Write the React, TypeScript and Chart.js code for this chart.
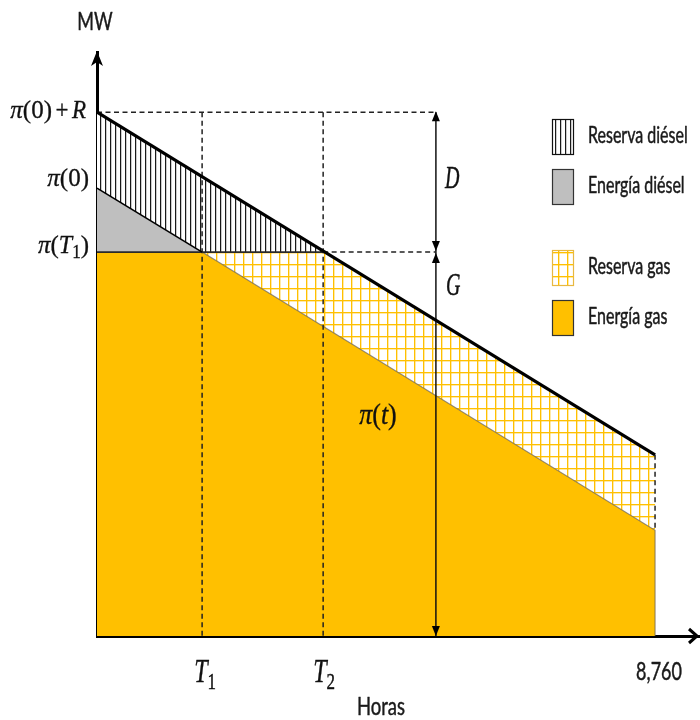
import React, { useEffect, useRef } from 'react';
import { Chart, registerables } from 'chart.js';

Chart.register(...registerables);

// ---- data (hours on x, MW on y, arbitrary units) ----
const HOURS_END = 8760;
const T1 = 1650;
const T2 = 3550;
const ARROW_X = 5320;
const X_MAX = 9450;
const Y_MAX = 111.5;

const PI0_R = 100; // π(0)+R
const PI0 = 85.5; // π(0)
const PI_T1 = 73.3; // π(T1)
const PI_END = 20.2; // π(8760)
const PI_R_END = 34.6; // π(8760)+R

const X_TICK_VALUES = [T1, T2, HOURS_END];
const Y_TICK_VALUES = [PI0_R, PI0, PI_T1];
const LEGEND_LABELS = ['Reserva diésel', 'Energía diésel', 'Reserva gas', 'Energía gas'];

const YELLOW = '#FFC000';
const GREY = '#BFBFBF';

type Pt = { x: number; y: number | null };

const gasEnergy: Pt[] = [
  { x: 0, y: 0 }, { x: 0, y: PI_T1 }, { x: T1, y: PI_T1 }, { x: HOURS_END, y: PI_END }, { x: HOURS_END, y: 0 }, { x: 0, y: 0 },
];
const gasReserve: Pt[] = [
  { x: T1, y: PI_T1 }, { x: T2, y: PI_T1 }, { x: HOURS_END, y: PI_R_END }, { x: HOURS_END, y: PI_END }, { x: T1, y: PI_T1 },
];
const dieselEnergy: Pt[] = [
  { x: 0, y: PI0 }, { x: T1, y: PI_T1 }, { x: 0, y: PI_T1 }, { x: 0, y: PI0 },
];
const dieselReserve: Pt[] = [
  { x: 0, y: PI0_R }, { x: T2, y: PI_T1 }, { x: T1, y: PI_T1 }, { x: 0, y: PI0 }, { x: 0, y: PI0_R },
];
const topLine: Pt[] = [{ x: 0, y: PI0_R }, { x: HOURS_END, y: PI_R_END }];
const dieselSlope: Pt[] = [{ x: 0, y: PI0 }, { x: T1, y: PI_T1 }];
const flatLine: Pt[] = [{ x: 0, y: PI_T1 }, { x: T2, y: PI_T1 }];
const gasEdge: Pt[] = [{ x: T1, y: PI_T1 }, { x: HOURS_END, y: PI_END }, { x: HOURS_END, y: 0 }];
const dashed: Pt[] = [
  { x: 0, y: PI0_R }, { x: ARROW_X, y: PI0_R }, { x: ARROW_X, y: null },
  { x: T1, y: PI0_R }, { x: T1, y: 0 }, { x: T1, y: null },
  { x: T2, y: PI0_R }, { x: T2, y: 0 }, { x: T2, y: null },
  { x: T2, y: PI_T1 }, { x: ARROW_X, y: PI_T1 }, { x: ARROW_X + 1, y: null },
  { x: HOURS_END, y: PI_R_END }, { x: HOURS_END, y: PI_END },
];
const dimLine: Pt[] = [{ x: ARROW_X, y: 0 }, { x: ARROW_X, y: PI0_R }];

// ---- helpers ----
function makeGridPattern(ctx: CanvasRenderingContext2D) {
  const c = document.createElement('canvas');
  c.width = 9; c.height = 12;
  const g = c.getContext('2d')!;
  g.fillStyle = '#fff'; g.fillRect(0, 0, 9, 12);
  g.fillStyle = 'rgba(255,192,0,0.35)';
  g.fillRect(1, 0, 1, 12); g.fillRect(0, 1, 9, 1);
  g.fillStyle = YELLOW;
  g.fillRect(0, 0, 1, 12); g.fillRect(0, 0, 9, 1);
  return ctx.createPattern(c, 'repeat')!;
}
function makeVLinePattern(ctx: CanvasRenderingContext2D) {
  const c = document.createElement('canvas');
  c.width = 5; c.height = 4;
  const g = c.getContext('2d')!;
  g.fillStyle = '#fff'; g.fillRect(0, 0, 5, 4);
  g.fillStyle = '#1a1a1a'; g.fillRect(0, 0, 1, 4);
  g.fillStyle = 'rgba(0,0,0,0.2)'; g.fillRect(1, 0, 1, 4);
  return ctx.createPattern(c, 'repeat')!;
}

type Seg = { t: string; font: string; dy?: number };
function drawRich(ctx: CanvasRenderingContext2D, segs: Seg[], x: number, y: number, align: 'left' | 'center' | 'right', sy: number, color = '#111', thick = 0) {
  ctx.save();
  const ws = segs.map((s) => { ctx.font = s.font; return ctx.measureText(s.t).width; });
  const w = ws.reduce((a, b) => a + b, 0);
  let cx = align === 'left' ? x : align === 'center' ? x - w / 2 : x - w;
  ctx.translate(0, y);
  ctx.scale(1, sy);
  ctx.textAlign = 'left';
  ctx.textBaseline = 'alphabetic';
  ctx.fillStyle = color;
  ctx.strokeStyle = color;
  ctx.lineWidth = thick;
  ctx.lineJoin = 'round';
  segs.forEach((s, i) => {
    ctx.font = s.font;
    ctx.fillText(s.t, cx, s.dy || 0);
    if (thick > 0) ctx.strokeText(s.t, cx, s.dy || 0);
    cx += ws[i];
  });
  ctx.restore();
}

const SERIF = '"Liberation Serif"';
const SANS = 'Lato';
const it = (n: number) => `italic ${n}px ${SERIF}`;
const up = (n: number) => `${n}px ${SERIF}`;

function triangle(ctx: CanvasRenderingContext2D, x: number, tipY: number, dir: 1 | -1) {
  // dir -1 = pointing up, 1 = pointing down
  const len = 10, hw = 4;
  ctx.beginPath();
  ctx.moveTo(x, tipY);
  ctx.lineTo(x - hw, tipY - dir * len);
  ctx.lineTo(x + hw, tipY - dir * len);
  ctx.closePath();
  ctx.fill();
}

const annotPlugin = {
  id: 'annot',
  afterDraw(chart: any) {
    const ctx: CanvasRenderingContext2D = chart.ctx;
    const xs = chart.scales.x, ys = chart.scales.y;
    const a = chart.chartArea;
    const px = (v: number) => xs.getPixelForValue(v);
    const py = (v: number) => ys.getPixelForValue(v);
    const pats = chart.$pats;
    ctx.save();
    ctx.fillStyle = '#000';
    ctx.strokeStyle = '#000';
    // y-axis arrow
    ctx.beginPath();
    ctx.moveTo(a.left, a.top - 1);
    ctx.lineTo(a.left - 6, a.top + 14);
    ctx.lineTo(a.left, a.top + 10);
    ctx.lineTo(a.left + 6, a.top + 14);
    ctx.closePath();
    ctx.fill();
    // x-axis arrow
    ctx.lineWidth = 3;
    ctx.lineJoin = 'miter';
    ctx.beginPath();
    ctx.moveTo(a.right - 10, a.bottom - 7);
    ctx.lineTo(a.right - 2, a.bottom);
    ctx.lineTo(a.right - 10, a.bottom + 7);
    ctx.stroke();
    // dimension arrowheads
    const ax = px(ARROW_X);
    triangle(ctx, ax, py(PI0_R) - 1, -1);
    triangle(ctx, ax, py(PI_T1) - 1, 1);
    triangle(ctx, ax, py(PI_T1) + 1, -1);
    triangle(ctx, ax, py(0), 1);

    // y tick labels
    const yLab: Seg[][] = [
      [{ t: 'π', font: it(25) }, { t: '(0)', font: up(25) }, { t: ' ', font: up(14) }, { t: '+', font: up(23) }, { t: ' ', font: up(14) }, { t: 'R', font: it(23) }],
      [{ t: 'π', font: it(25) }, { t: '(0)', font: up(25) }],
      [{ t: 'π', font: it(25) }, { t: '(', font: up(25) }, { t: 'T', font: it(24) }, { t: '1', font: up(17), dy: 5 }, { t: ')', font: up(25) }],
    ];
    const yOff = [6, -2, 1];
    Y_TICK_VALUES.forEach((v, i) => drawRich(ctx, yLab[i], i === 0 ? 86 : 89, py(v) + yOff[i], 'right', 1.05, '#111', 0.3));

    // x tick labels
    const xLab: Seg[][] = [
      [{ t: 'T', font: it(24) }, { t: '1', font: up(17), dy: 5 }],
      [{ t: 'T', font: it(24) }, { t: '2', font: up(17), dy: 5 }],
    ];
    drawRich(ctx, xLab[0], px(X_TICK_VALUES[0]) + 3, 682, 'center', 1.4, '#111', 0.3);
    drawRich(ctx, xLab[1], px(X_TICK_VALUES[1]) + 1, 682, 'center', 1.4, '#111', 0.3);
    drawRich(ctx, [{ t: '8,760', font: `18px ${SANS}` }], px(X_TICK_VALUES[2]) + 4, 680, 'center', 1.35, '#1a1a1a', 0.35);

    // axis titles
    drawRich(ctx, [{ t: 'MW', font: `18px ${SANS}` }], a.left - 2, 30, 'center', 1.38, '#1a1a1a', 0.35);
    drawRich(ctx, [{ t: 'Horas', font: `18.5px ${SANS}` }], 381, 715, 'center', 1.35, '#1a1a1a', 0.35);

    // D / G / π(t)
    drawRich(ctx, [{ t: 'D', font: it(20) }], ax + 9, 188, 'left', 1.55, '#111', 0.3);
    drawRich(ctx, [{ t: 'G', font: it(20) }], ax + 10, 295, 'left', 1.55, '#111', 0.3);
    drawRich(ctx, [{ t: 'π', font: it(26) }, { t: '(', font: up(26) }, { t: 't', font: it(26) }, { t: ')', font: up(26) }], 378, 424, 'center', 1.15, '#111', 0.3);

    // legend
    const boxX = 552, boxW = 22, boxH = 36;
    const boxY = [119, 169, 250, 300];
    const fills = [pats.vlines, GREY, pats.grid, YELLOW];
    const strokes = ['#111', '#333', '#E8B840', '#333'];
    LEGEND_LABELS.forEach((lab, i) => {
      ctx.fillStyle = fills[i];
      ctx.fillRect(boxX, boxY[i], boxW, boxH);
      ctx.lineWidth = 1.2;
      ctx.strokeStyle = strokes[i];
      ctx.strokeRect(boxX + 0.5, boxY[i] + 0.5, boxW - 1, boxH - 1);
      drawRich(ctx, [{ t: lab, font: `16px ${SANS}` }], 588, boxY[i] + boxH / 2 + 6, 'left', 1.45, '#1a1a1a', 0.35);
    });
    ctx.restore();
  },
};

export default function App() {
  const ref = useRef<HTMLCanvasElement | null>(null);
  useEffect(() => {
    document.body.style.margin = '0';
    const canvas = ref.current!;
    const ctx = canvas.getContext('2d')!;
    const grid = makeGridPattern(ctx);
    const vlines = makeVLinePattern(ctx);
    const line = (data: Pt[], color: string, width: number, extra: any = {}) => ({
      data, borderColor: color, borderWidth: width, pointRadius: 0, fill: false, tension: 0, ...extra,
    });
    const poly = (data: Pt[], bg: any) => ({
      data, backgroundColor: bg, borderWidth: 0, borderColor: 'rgba(0,0,0,0)', pointRadius: 0, fill: 'shape', tension: 0,
    });
    const chart: any = new Chart(canvas, {
      type: 'line',
      data: {
        datasets: [
          line(topLine, '#000', 3.2),
          line(dieselSlope, '#000', 1.6),
          line(flatLine, '#2a2a2a', 1.6),
          line(dashed, '#222', 1.5, { borderDash: [5, 3.5] }),
          line(dimLine, '#111', 1.5),
          line(gasEdge, 'rgba(110,100,80,0.75)', 1.1),
          poly(dieselReserve, vlines),
          poly(dieselEnergy, GREY),
          poly(gasReserve, grid),
          poly(gasEnergy, YELLOW),
        ] as any,
      },
      options: {
        animation: false,
        responsive: false,
        events: [],
        layout: { padding: { left: 97, top: 52, right: 1, bottom: 84 } },
        plugins: { legend: { display: false }, tooltip: { enabled: false }, title: { display: false } },
        elements: { point: { radius: 0 } },
        scales: {
          x: {
            type: 'linear', min: 0, max: X_MAX, z: 1,
            grid: { display: false, drawTicks: false },
            ticks: { display: false },
            border: { display: true, width: 3, color: '#000' },
            afterFit: (s: any) => { s.height = 0; },
          },
          y: {
            type: 'linear', min: 0, max: Y_MAX, z: 1,
            grid: { display: false, drawTicks: false },
            ticks: { display: false },
            border: { display: true, width: 3, color: '#000' },
            afterFit: (s: any) => { s.width = 0; },
          },
        },
      } as any,
      plugins: [
        { id: 'pats', beforeInit(c: any) { c.$pats = { grid, vlines }; } },
        annotPlugin,
      ],
    });
    return () => chart.destroy();
  }, []);
  return (
    <div style={{ width: 700, height: 720, background: '#fff' }}>
      <canvas ref={ref} width={700} height={720} style={{ display: 'block' }} />
    </div>
  );
}
